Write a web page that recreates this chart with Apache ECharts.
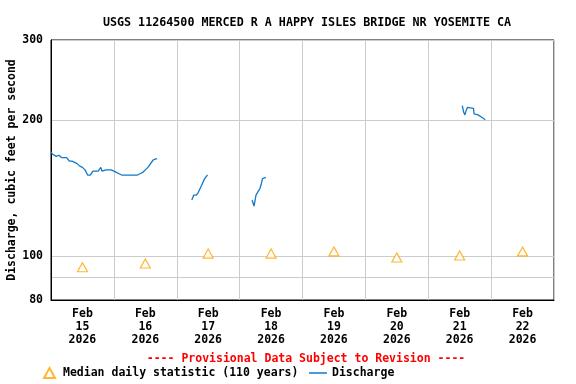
<!DOCTYPE html>
<html><head><meta charset="utf-8">
<script src="https://cdn.jsdelivr.net/npm/echarts@6/dist/echarts.min.js"></script>
<style>html,body{margin:0;padding:0;background:#fff}#c{width:576px;height:384px}</style>
</head><body><div id="c"></div>
<script>
// ---- data ----
const titleText = 'USGS 11264500 MERCED R A HAPPY ISLES BRIDGE NR YOSEMITE CA';
const provisionalText = '---- Provisional Data Subject to Revision ----';
const yAxisName = 'Discharge, cubic feet per second';
const startDate = [2026, 1, 15]; // Feb 15 2026 (month 0-based)
const dayCount = 8;
const yTickLabels = [80, 100, 200, 300];
const yGridValues = [80, 90, 100, 200, 300];
// median daily statistic, one per day (Feb 15..22), plotted at noon
const medianDays = [15, 16, 17, 18, 19, 20, 21, 22];
const medianValues = [94.5, 96.3, 101.3, 101.3, 102.4, 99.3, 100.3, 102.4];
// discharge: hours after Feb 15 00:00, null value = gap
const dischargeHours = [
  0, 0.5, 1, 2, 3, 4, 5, 6, 7, 8, 9, 10, 11, 12, 13, 14, 15, 16, 17, 18, 19, 19.5, 20, 21, 22, 23,
  24, 25, 26, 27, 28, 29, 30, 31, 32, 33, 34, 35, 36, 37, 38, 39, 40, 40.5,
  47,
  53.75, 54.5, 55.5, 56.25, 56.75, 57, 57.5, 58.25, 58.5, 59, 59.5, 59.75,
  68,
  76.75, 77.25, 77.5, 78, 78.25, 78.75, 79, 79.5, 79.75, 80.25, 80.75, 81, 82,
  120,
  157, 157.5, 158, 158.5, 159, 159.75, 161.25, 161.5, 163, 163.5, 165, 165.25, 165.75
];
const dischargeValues = [
  170, 168, 167, 166, 167, 165, 165, 165, 162, 162, 161, 160, 158, 157, 155, 151, 151, 154, 154, 154, 157, 154, 154, 155, 155, 155,
  154, 153, 152, 151, 151, 151, 151, 151, 151, 151, 152, 153, 155, 157, 160, 163, 164, 164,
  null,
  133, 136.4, 136.4, 138.3, 138.3, 139.4, 143.4, 143.4, 147.7, 149.2, 150.5, 151,
  null,
  133, 133, 129, 129, 136.4, 137.9, 138.5, 137.5, 141, 144.3, 148.3, 149.2, 149.2,
  null,
  215, 208, 205, 210, 213, 212, 212, 206, 205, 203, 201.5, 203, 200
];
const monthNames = ['Jan','Feb','Mar','Apr','May','Jun','Jul','Aug','Sep','Oct','Nov','Dec'];

// ---- build ----
const HOUR = 3600000, DAY = 24 * HOUR;
const t0 = Date.UTC(startDate[0], startDate[1], startDate[2]);
const tEnd = t0 + dayCount * DAY;
const noonTicks = [], midnightTicks = [];
for (let i = 0; i <= dayCount; i++) {
  midnightTicks.push(t0 + i * DAY);
  if (i < dayCount) noonTicks.push(t0 + i * DAY + 12 * HOUR);
}
const medianData = medianDays.map((d, i) => [Date.UTC(startDate[0], startDate[1], d, 12), medianValues[i]]);
const dischargeData = dischargeHours.map((h, i) => [t0 + h * HOUR, dischargeValues[i]]);

const FONT = '"DejaVu Sans Mono", "Liberation Mono", monospace';
const chart = echarts.init(document.getElementById('c'), null, {renderer: 'canvas'});
chart.setOption({
  animation: false,
  backgroundColor: '#fff',
  title: [
    {text: titleText, left: 302, top: 12, textAlign: 'center',
     textStyle: {fontFamily: FONT, fontSize: 11.7, fontWeight: 'bold', color: '#000'}},
    {text: provisionalText, left: 301, top: 348, textAlign: 'center',
     textStyle: {fontFamily: FONT, fontSize: 11.5, fontWeight: 'bold', color: '#f00'}}
  ],
  legend: [
    {left: 38, top: 362, itemWidth: 11, itemHeight: 10, itemGap: 8,
     data: ['Median daily statistic (110 years)'],
     textStyle: {fontFamily: FONT, fontSize: 11.5, fontWeight: 'bold', color: '#000', padding: [0, 0, 0, 3]}},
    {left: 304, top: 362, itemWidth: 18, itemHeight: 1.5,
     data: [{name: 'Discharge', icon: 'rect'}],
     textStyle: {fontFamily: FONT, fontSize: 11.5, fontWeight: 'bold', color: '#000'}}
  ],
  grid: {left: 51, right: 22, top: 40, bottom: 84, outerBoundsMode: 'none', containLabel: false,
         show: true, borderColor: '#000', borderWidth: 1, backgroundColor: 'transparent'},
  xAxis: {
    type: 'value', min: t0, max: tEnd,
    axisLine: {show: true, lineStyle: {color: '#000', width: 1}},
    axisTick: {show: false, customValues: midnightTicks},
    splitLine: {show: true, lineStyle: {color: '#cccccc', width: 1}},
    axisLabel: {
      customValues: noonTicks, margin: 8,
      fontFamily: FONT, fontSize: 11.5, fontWeight: 'bold', color: '#000', lineHeight: 13,
      formatter: v => { const d = new Date(v); return monthNames[d.getUTCMonth()] + '\n' + d.getUTCDate() + '\n' + d.getUTCFullYear(); }
    }
  },
  yAxis: {
    type: 'log', logBase: 10, min: 80, max: 300,
    name: yAxisName, nameLocation: 'middle', nameGap: 33, nameMoveOverlap: false,
    nameTextStyle: {fontFamily: FONT, fontSize: 11.5, fontWeight: 'bold', color: '#000'},
    axisLine: {show: true, lineStyle: {color: '#000', width: 1}},
    axisTick: {show: false, customValues: yGridValues},
    splitLine: {show: true, lineStyle: {color: '#cccccc', width: 1}},
    axisLabel: {customValues: yTickLabels, margin: 8, fontFamily: FONT, fontSize: 11.5, fontWeight: 'bold', color: '#000'}
  },
  series: [
    {name: 'Median daily statistic (110 years)', type: 'scatter', data: medianData,
     symbol: 'triangle', symbolSize: [10, 9],
     itemStyle: {color: '#fff', borderColor: '#FFA500', borderWidth: 1.2}, z: 3},
    {name: 'Discharge', type: 'line', data: dischargeData,
     showSymbol: false, symbol: 'none', connectNulls: false,
     lineStyle: {color: '#1279c8', width: 1.3}, itemStyle: {color: '#1279c8'}, z: 4}
  ]
});
</script>
</body></html>
